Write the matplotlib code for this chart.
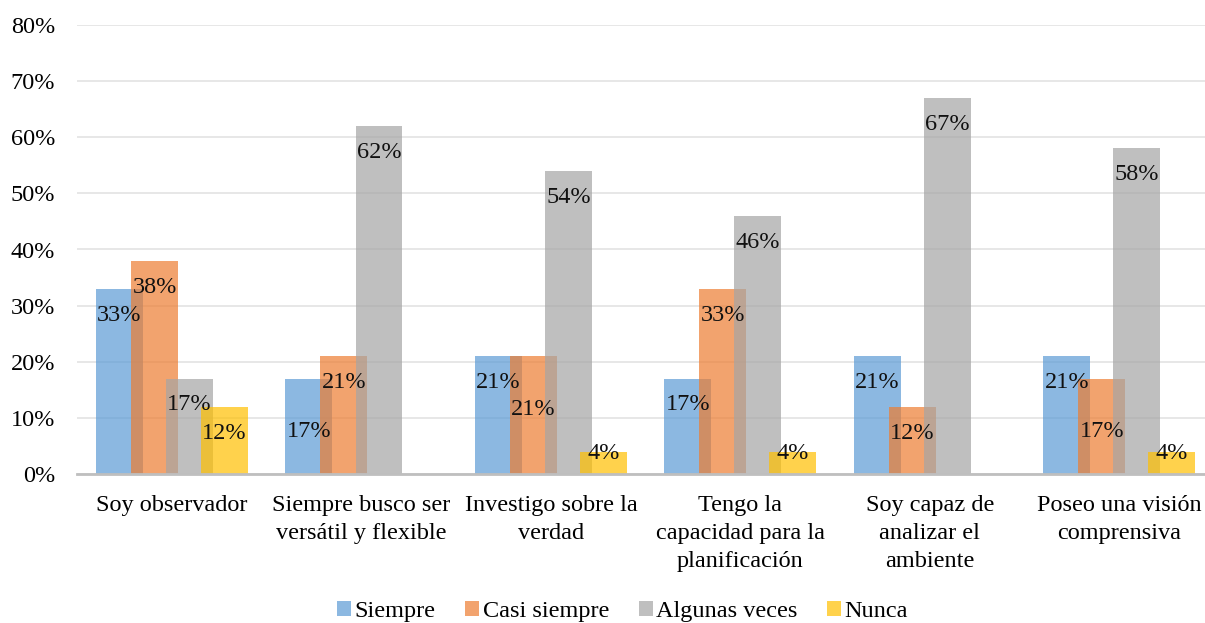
import matplotlib
matplotlib.use("Agg")
import matplotlib.pyplot as plt
import numpy as np
from matplotlib.patches import Patch

categories = ["Soy observador", "Siempre busco ser\nversátil y flexible",
              "Investigo sobre la\nverdad", "Tengo la\ncapacidad para la\nplanificación",
              "Soy capaz de\nanalizar el\nambiente", "Poseo una visión\ncomprensiva"]
series_names = ["Siempre", "Casi siempre", "Algunas veces", "Nunca"]
siempre = [33, 17, 21, 17, 21, 21]
casi_siempre = [38, 21, 21, 33, 12, 17]
algunas_veces = [17, 62, 54, 46, 67, 58]
nunca = [12, 0, 4, 4, 0, 4]
yticks = [0, 10, 20, 30, 40, 50, 60, 70, 80]

# label offsets below bar top (percentage points), styling only
label_offsets = [
    [4.7, 9.5, 4.7, 4.7, 4.7, 4.7],
    [4.7, 4.7, 9.5, 4.7, 4.7, 9.5],
    [4.7, 4.7, 4.7, 4.7, 4.7, 4.7],
    [4.7, 0, 0.3, 0.3, 0, 0.3],
]

colors = ["#5B9BD5", "#ED7D31", "#A5A5A5", "#FFC000"]
alpha = 0.7
FS = 17.5

plt.rcParams['font.family'] = ['Liberation Serif', 'DejaVu Serif']

fig = plt.figure(figsize=(12.05, 6.23), dpi=100)
W, H = 1205, 623
left, right, top, bottom = 77.3, 1214, 25, 474
ax = fig.add_axes([left / W, 1 - bottom / H, (right - left) / W, (bottom - top) / H])

x = np.arange(len(categories))
step = 0.185
width = 0.248
all_series = [siempre, casi_siempre, algunas_veces, nunca]
for i, (vals, c) in enumerate(zip(all_series, colors)):
    pos = x + (i - 1.5) * step
    ax.bar(pos, vals, width=width, color=c, alpha=alpha, linewidth=0, zorder=2)
    for j, v in enumerate(vals):
        if v > 0:
            ax.text(pos[j], v - label_offsets[i][j], f"{v}%", ha="center", va="center",
                    fontsize=FS, color="#111111", zorder=5)

ax.set_xlim(-0.5, len(categories) - 0.5)
ax.set_ylim(0, 80)
ax.set_yticks(yticks)
ax.set_yticklabels([f"{t}%" for t in yticks], fontsize=FS)
ax.set_xticks(x)
ax.set_xticklabels(categories, fontsize=FS, linespacing=1.45, va="top")
ax.tick_params(axis="both", length=0)
ax.tick_params(axis="x", pad=15)
ax.tick_params(axis="y", pad=16)
ax.grid(axis="y", color="#E3E3E3", linewidth=1.2, zorder=0)
ax.set_axisbelow(True)
for s in ["top", "right", "left"]:
    ax.spines[s].set_visible(False)
ax.spines["bottom"].set_color("#BFBFBF")
ax.spines["bottom"].set_linewidth(2)
ax.spines["bottom"].set_zorder(3)

handles = [Patch(facecolor=c, alpha=alpha, linewidth=0) for c in colors]
fig.legend(handles, series_names, loc="center", bbox_to_anchor=(622.5 / W, 1 - 611.5 / H),
           ncol=4, frameon=False, fontsize=FS, handlelength=0.58, handleheight=0.58,
           handletextpad=0.13, columnspacing=1.22, borderpad=0)

fig.savefig("out.png", dpi=100)
